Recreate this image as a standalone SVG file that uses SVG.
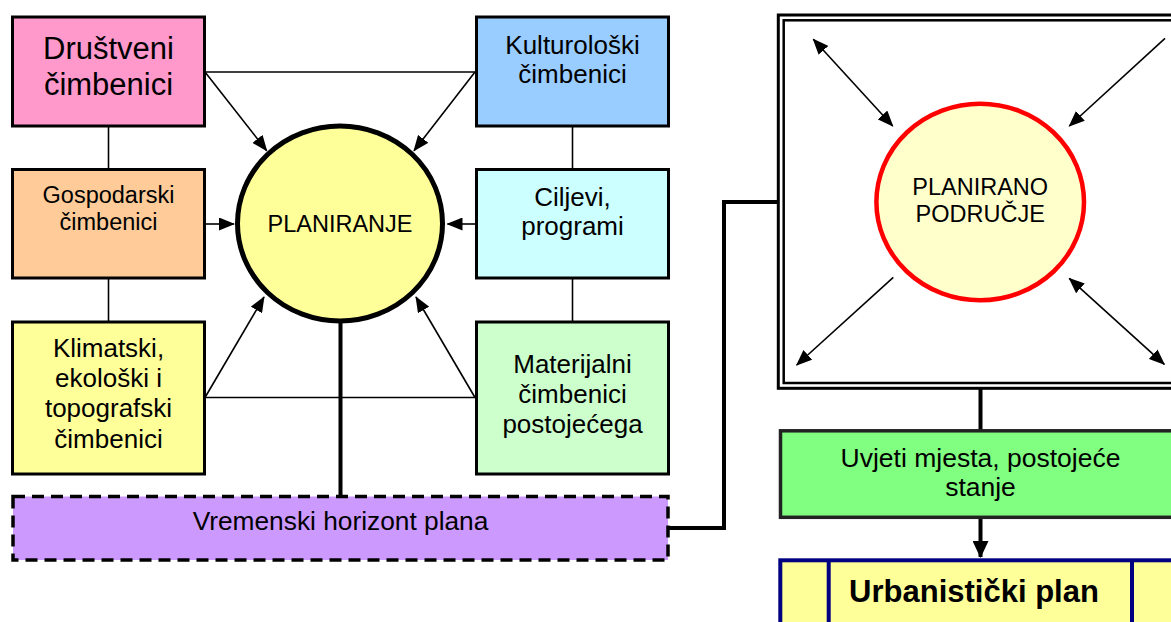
<svg xmlns="http://www.w3.org/2000/svg" width="1171" height="622" viewBox="0 0 1171 622">
<style>
text { font-family: "Liberation Sans", Arial, sans-serif; fill: #000; text-anchor: middle; }
.box { stroke: #000; stroke-width: 3; }
.thin { fill: none; stroke: #000; stroke-width: 1.6; }
.thick { fill: none; stroke: #000; stroke-width: 4; }
.arr { marker-end: url(#ah); }
.darr { marker-start: url(#ah); marker-end: url(#ah); }
</style>
<defs>
<marker id="ah" markerUnits="userSpaceOnUse" markerWidth="16" markerHeight="13" refX="15" refY="6.5" orient="auto-start-reverse" viewBox="0 0 16 13">
<path d="M0,0 L16,6.5 L0,13 z" fill="#000"/>
</marker>
<marker id="ahb" markerUnits="userSpaceOnUse" markerWidth="17" markerHeight="16" refX="16" refY="8" orient="auto" viewBox="0 0 17 16">
<path d="M0,0 L17,8 L0,16 z" fill="#000"/>
</marker>
</defs>

<g id="planirano-podrucje">
<rect x="778.3" y="15" width="500" height="373.3" fill="#fff" stroke="#000" stroke-width="3"/>
<rect x="783.7" y="20.3" width="490" height="362.7" fill="none" stroke="#000" stroke-width="2.5"/>
<ellipse cx="980.2" cy="202" rx="103.8" ry="98.3" fill="#FFFFCC" stroke="#FF0000" stroke-width="4.5"/>
<text x="980.2" y="195" font-size="23.5">PLANIRANO</text>
<text x="980.2" y="221.7" font-size="23.5">PODRUČJE</text>
</g>

<g id="connectors">
<line class="thin" x1="108.5" y1="126" x2="108.5" y2="169"/>
<line class="thin" x1="108.5" y1="278" x2="108.5" y2="321"/>
<line class="thin" x1="572.5" y1="126" x2="572.5" y2="169"/>
<line class="thin" x1="572.5" y1="278" x2="572.5" y2="321"/>
<line class="thin" x1="205" y1="72" x2="475" y2="72"/>
<line class="thin arr" x1="205" y1="72" x2="266.7" y2="150.7"/>
<line class="thin arr" x1="475" y1="72" x2="414" y2="150.7"/>
<line class="thin arr" x1="205" y1="224" x2="234" y2="224"/>
<line class="thin arr" x1="475" y1="224" x2="447.5" y2="224"/>
<line class="thin" x1="205" y1="397.5" x2="475" y2="397.5"/>
<line class="thin arr" x1="205" y1="397.5" x2="264" y2="297"/>
<line class="thin arr" x1="475" y1="397.5" x2="416" y2="297"/>
<line class="thick" x1="340.5" y1="322" x2="340.5" y2="495"/>
<path class="thick" d="M669,528 H724 V202 H777"/>
<line class="thick" x1="980.5" y1="389" x2="980.5" y2="430"/>
<line class="thick" x1="980.5" y1="518" x2="980.5" y2="557" marker-end="url(#ahb)"/>
<line class="thin darr" x1="813.3" y1="39.3" x2="892.7" y2="126"/>
<line class="thin arr" x1="1165" y1="38.3" x2="1069.3" y2="126"/>
<line class="thin arr" x1="893.3" y1="277.3" x2="796.7" y2="365"/>
<line class="thin darr" x1="1069.3" y1="278.3" x2="1164.3" y2="364.3"/>
</g>

<g id="drustveni">
<rect class="box" x="12.5" y="17" width="192" height="109" fill="#FF99CC"/>
<text x="108.5" y="59" font-size="31">Društveni</text>
<text x="108.5" y="95" font-size="31">čimbenici</text>
</g>

<g id="gospodarski">
<rect class="box" x="12.5" y="169.5" width="192" height="108.5" fill="#FFCC99"/>
<text x="108.5" y="203" font-size="23.5">Gospodarski</text>
<text x="108.5" y="230" font-size="23.5">čimbenici</text>
</g>

<g id="klimatski">
<rect class="box" x="12.5" y="322" width="192" height="152" fill="#FFFF99"/>
<text x="108.5" y="357.3" font-size="26">Klimatski,</text>
<text x="108.5" y="387.3" font-size="26">ekološki i</text>
<text x="108.5" y="417.3" font-size="26">topografski</text>
<text x="108.5" y="448" font-size="26">čimbenici</text>
</g>

<g id="kulturoloski">
<rect class="box" x="476.5" y="17" width="192" height="109" fill="#99CCFF"/>
<text x="572.5" y="54" font-size="26">Kulturološki</text>
<text x="572.5" y="83.3" font-size="26">čimbenici</text>
</g>

<g id="ciljevi">
<rect class="box" x="476.5" y="169.5" width="192" height="108.5" fill="#CCFFFF"/>
<text x="572.5" y="205.5" font-size="26">Ciljevi,</text>
<text x="572.5" y="234.5" font-size="26">programi</text>
</g>

<g id="materijalni">
<rect class="box" x="476.5" y="322" width="192" height="152" fill="#CCFFCC"/>
<text x="572.5" y="373.3" font-size="26">Materijalni</text>
<text x="572.5" y="403.3" font-size="26">čimbenici</text>
<text x="572.5" y="433.3" font-size="26">postojećega</text>
</g>

<g id="planiranje">
<ellipse cx="340" cy="223.5" rx="102.5" ry="97.5" fill="#FFFF99" stroke="#000" stroke-width="5"/>
<text x="340" y="231.7" font-size="23.5">PLANIRANJE</text>
</g>

<g id="vremenski">
<rect x="13" y="496.5" width="655" height="63.5" fill="#CC99FF" stroke="#000" stroke-width="3.5" stroke-dasharray="12,7"/>
<text x="340.5" y="530" font-size="26.3">Vremenski horizont plana</text>
</g>

<g id="uvjeti">
<rect x="780.5" y="430.8" width="500" height="86.5" fill="#80FF80" stroke="#222" stroke-width="3.5"/>
<text x="980.5" y="466.7" font-size="26.5">Uvjeti mjesta, postojeće</text>
<text x="980.5" y="496" font-size="26.5">stanje</text>
</g>

<g id="urbanisticki">
<rect x="780.3" y="560.3" width="500" height="100" fill="#FFFF99" stroke="#000080" stroke-width="4"/>
<line x1="828.7" y1="560" x2="828.7" y2="622" stroke="#000080" stroke-width="4"/>
<line x1="1132" y1="560" x2="1132" y2="622" stroke="#000080" stroke-width="4"/>
<text x="974" y="601.7" font-size="31" font-weight="bold">Urbanistički plan</text>
</g>
</svg>
